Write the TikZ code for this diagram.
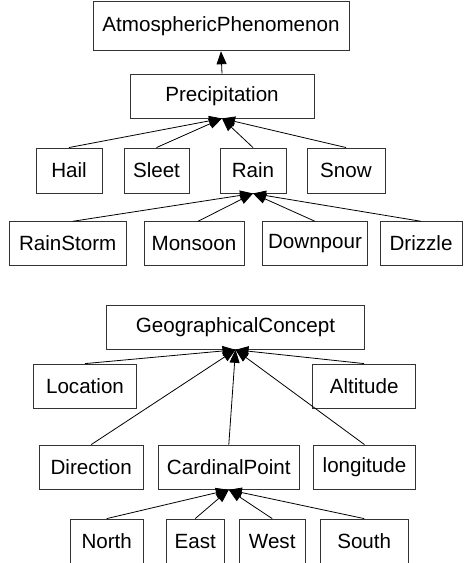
\documentclass[tikz,border=0pt]{standalone}
\usepackage{fontspec}
\setmainfont{Liberation Sans}
\usetikzlibrary{arrows.meta}
\begin{document}
\begin{tikzpicture}[x=1pt,y=-1pt,
  box/.style={draw=black!80, line width=0.9pt, inner sep=0pt, font=\fontsize{20.6}{22}\selectfont, fill=white},
  isa/.style={draw=black, line width=0.8pt, -{Triangle[length=13pt,width=10pt]}}]
\useasboundingbox (0,0) rectangle (465,563);
\clip (0,0) rectangle (465,563);
% top tree
\node[box, minimum width=256, minimum height=49] (atm) at (221,26.3) {AtmosphericPhenomenon};
\node[box, minimum width=184, minimum height=44] (prec) at (222,96) {Precipitation};
\node[box, minimum width=66, minimum height=45] (hail) at (69,170.5) {Hail};
\node[box, minimum width=65, minimum height=45] (sleet) at (156.5,170.5) {Sleet};
\node[box, minimum width=66, minimum height=45] (rain) at (253,170.5) {Rain};
\node[box, minimum width=78, minimum height=45] (snow) at (346,170.5) {Snow};
\node[box, minimum width=117, minimum height=43.5] (rs) at (67.7,243.5) {RainStorm};
\node[box, minimum width=100, minimum height=43.5] (mon) at (194,243.5) {Monsoon};
\node[box, minimum width=105, minimum height=43.5] (dp) at (315,243.5) {Downpour};
\node[box, minimum width=82, minimum height=43.5] (dz) at (421,243.5) {Drizzle};
\draw[isa] (prec.north) -- (atm.south);
\foreach \c in {hail,sleet,rain,snow} \draw[isa] (\c.north) -- (prec.south);
\draw[isa] ([xshift=5pt]rs.north) -- (rain.south);
\draw[isa] ([xshift=4pt]mon.north) -- (rain.south);
\draw[isa] (dp.north) -- (rain.south);
\draw[isa] (dz.north) -- (rain.south);
% bottom tree
\node[box, minimum width=257.6, minimum height=44.3] (gc) at (235.5,327.2) {GeographicalConcept};
\node[box, minimum width=103.4, minimum height=44.3] (loc) at (85,386.2) {Location};
\node[box, minimum width=103, minimum height=44.3] (alt) at (364.2,386.2) {Altitude};
\node[box, minimum width=104.3, minimum height=44.3] (dir) at (91.2,467.2) {Direction};
\node[box, minimum width=141, minimum height=44.3] (cp) at (228.8,467.2) {CardinalPoint};
\node[box, minimum width=102.4, minimum height=44.3] (lon) at (364.5,467.2) {longitude};
\node[box, minimum width=73.3, minimum height=44.3] (north) at (106.7,541.2) {North};
\node[box, minimum width=58.3, minimum height=44.3] (east) at (195.2,541.2) {East};
\node[box, minimum width=65.7, minimum height=44.3] (west) at (272.2,541.2) {West};
\node[box, minimum width=88.3, minimum height=44.3] (south) at (364.2,541.2) {South};
\foreach \c in {loc,alt,dir,cp,lon} \draw[isa] (\c.north) -- (gc.south);
\foreach \c in {north,east,west,south} \draw[isa] (\c.north) -- (cp.south);
\end{tikzpicture}
\end{document}
